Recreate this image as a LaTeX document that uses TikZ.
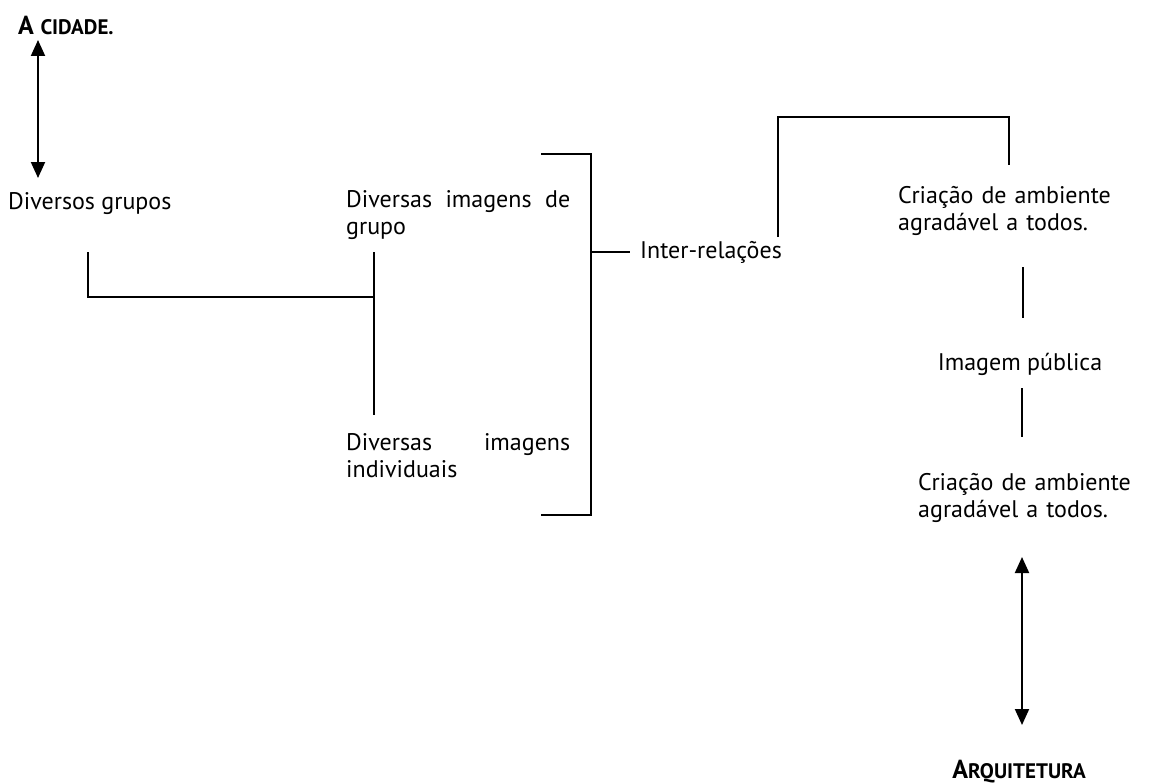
\documentclass[tikz,border=0pt]{standalone}
\usepackage{fontspec}
\setmainfont{PT Sans}
\usetikzlibrary{arrows.meta,positioning}
\tikzset{
  txt/.style={inner sep=0pt, font=\fontsize{24}{27}\selectfont},
  para/.style={txt, text width=224pt, align=left},
  headtxt/.style={inner sep=0pt, font=\bfseries\fontsize{26}{28}\selectfont},
  link/.style={line width=1.4pt},
  dbl/.style={line width=2pt, {Triangle[width=14pt,length=16pt]}-{Triangle[width=14pt,length=16pt]}}
}
\newcommand{\smc}[1]{{\fontsize{21}{22}\selectfont #1}}
\begin{document}
\begin{tikzpicture}[x=1pt,y=-1pt]
\useasboundingbox (0,0) rectangle (1151,784);
% texts
\node[headtxt, anchor=west] (cidade) at (18,25) {A \smc{CIDADE.}};
\node[txt, anchor=west] (grupos) at (8,204) {Diversos grupos};
\node[para, anchor=west] (imgrupo) at (346,215) {Diversas\hfill imagens\hfill de\\grupo};
\node[para, anchor=west] (imindiv) at (346,456) {Diversas\hfill imagens\\individuais};
\node[txt, anchor=west] (inter) at (640,252) {Inter-relações};
\node[para, anchor=west] (criacaoa) at (898,211) {Criação de ambiente\\agradável a todos.};
\node[txt] (publica) at (1020,364) {Imagem pública};
\node[para, anchor=west] (criacaob) at (918,498) {Criação de ambiente\\agradável a todos.};
\node[headtxt] (arq) at (1019,772) {A\smc{RQUITETURA}};
% helper points
\coordinate (c1) at (38,40);
\coordinate (c2) at (38,178);
\coordinate (g1) at (88,252);
\coordinate (g2) at (374,252);
\coordinate (g3) at (374,415);
\coordinate (b1) at (541,154);
\coordinate (b2) at (591,154);
\coordinate (b3) at (591,515);
\coordinate (b4) at (541,515);
\coordinate (i1) at (630,252);
\coordinate (u1) at (778,237);
\coordinate (u2) at (778,117);
\coordinate (u3) at (1009,117);
\coordinate (u4) at (1009,165);
\coordinate (v1) at (1023,267);
\coordinate (v2) at (1023,318);
\coordinate (v3) at (1022,388);
\coordinate (v4) at (1022,437);
\coordinate (a1) at (1022,557);
\coordinate (a2) at (1022,725);
% connectors
\draw[dbl] (c1) -- (c2);
\draw[link] (g1) |- (g3 |- 0,297);
\draw[link] (g2) -- (g3);
\draw[link] (b1) -- (b2) -- (b3) -- (b4);
\draw[link] (b2 |- i1) -- (i1);
\draw[link] (u1) -- (u2) -- (u3) -- (u4);
\draw[link] (v1) -- (v2);
\draw[link] (v3) -- (v4);
\draw[dbl] (a1) -- (a2);
\end{tikzpicture}
\end{document}
